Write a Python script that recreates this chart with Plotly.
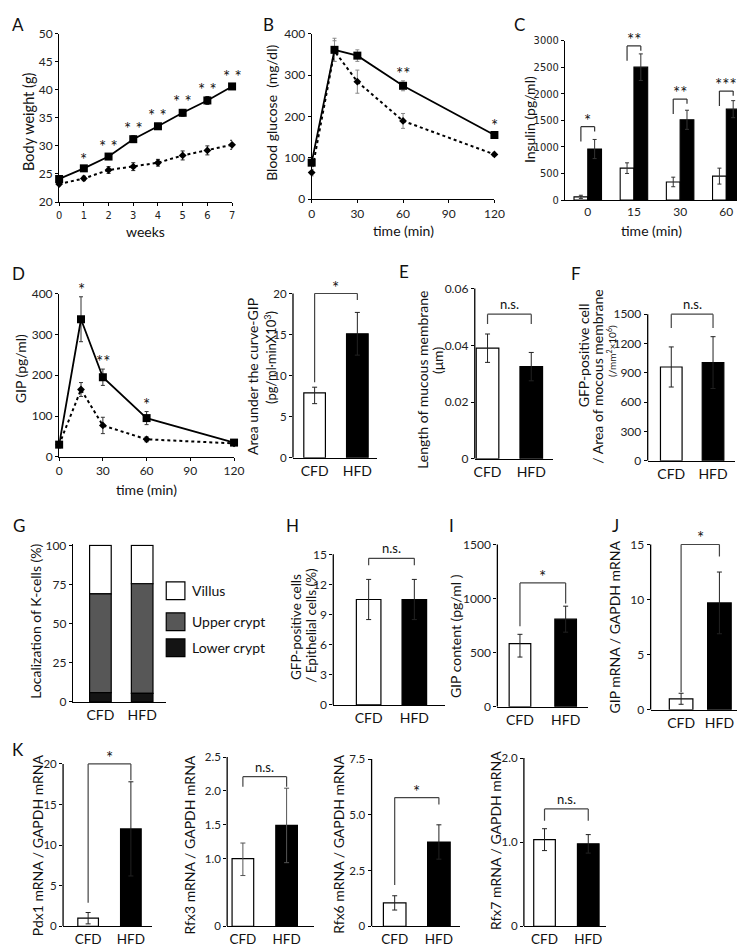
import numpy as np
import plotly.graph_objects as go

W, H = 745, 945
FONT = "Lato, 'Open Sans', 'DejaVu Sans', sans-serif"
NARROW = "'Liberation Sans Narrow', 'DejaVu Sans Condensed', sans-serif"

# ---------------- data ----------------
# A: body weight
weeks = [0, 1, 2, 3, 4, 5, 6, 7]
bw_hfd = [24.1, 26.0, 28.1, 31.2, 33.5, 35.9, 38.1, 40.6]
bw_hfd_err = [0.3, 0.3, 0.4, 0.6, 0.5, 0.6, 0.7, 0.4]
bw_cfd = [23.2, 24.2, 25.7, 26.3, 27.0, 28.3, 29.2, 30.2]
bw_cfd_err = [0.3, 0.4, 0.6, 0.7, 0.6, 0.8, 0.8, 0.8]
bw_sig = ["", "*", "* *", "* *", "* *", "* *", "* *", "* *"]
# B: blood glucose
glc_time = [0, 15, 30, 60, 120]
glc_hfd = [88, 361, 347, 274, 155]
glc_hfd_err = [10, 28, 14, 12, 6]
glc_cfd = [64, 358, 284, 189, 108]
glc_cfd_err = [8, 25, 28, 18, 5]
glc_sig = ["", "", "", "**", "*"]
# C: insulin
ins_time = ["0", "15", "30", "60"]
ins_cfd = [60, 600, 340, 450]
ins_cfd_err = [30, 100, 90, 150]
ins_hfd = [960, 2500, 1510, 1710]
ins_hfd_err = [180, 250, 180, 160]
ins_sig = ["*", "**", "**", "***"]
ins_bracket = [1380, 2900, 1900, 2050]
# D: GIP
gip_time = [0, 15, 30, 60, 120]
gip_hfd = [30, 337, 195, 95, 35]
gip_hfd_err = [8, 55, 20, 16, 5]
gip_cfd = [30, 165, 77, 43, 33]
gip_cfd_err = [6, 17, 20, 6, 4]
gip_sig = ["", "*", "**", "*", ""]

groups = ["CFD", "HFD"]
auc_mean = [7.9, 15.1]; auc_up = [0.7, 2.6]; auc_dn = [1.3, 2.6]
auc_ticks = [0, 5, 10, 15, 20]; auc_br = [20, 9.2, 19.2]; auc_sig = "*"
len_mean = [0.039, 0.0325]; len_up = [0.005, 0.005]; len_dn = [0.005, 0.005]
len_ticks = [0, 0.02, 0.04, 0.06]; len_br = [0.051, 0.0475, 0.0475]; len_sig = "n.s."
gfp_mean = [960, 1005]; gfp_up = [205, 265]; gfp_dn = [205, 265]
gfp_ticks = [0, 300, 600, 900, 1200, 1500]; gfp_br = [1500, 1360, 1360]; gfp_sig = "n.s."
epi_mean = [10.5, 10.5]; epi_up = [2.0, 2.0]; epi_dn = [2.0, 2.0]
epi_ticks = [0, 3, 6, 9, 12, 15]; epi_br = [14.6, 13.9, 13.9]; epi_sig = "n.s."
cont_mean = [585, 810]; cont_up = [85, 120]; cont_dn = [125, 120]
cont_ticks = [0, 500, 1000, 1500]; cont_br = [1145, 745, 955]; cont_sig = "*"
gipm_mean = [1.0, 9.7]; gipm_up = [0.5, 2.8]; gipm_dn = [0.5, 2.8]
gipm_ticks = [0, 5, 10, 15]; gipm_br = [15, 1.6, 13.9]; gipm_sig = "*"
pdx_mean = [1.0, 12.0]; pdx_up = [0.7, 5.8]; pdx_dn = [0.7, 5.8]
pdx_ticks = [0, 5, 10, 15, 20]; pdx_br = [20, 2.9, 18]; pdx_sig = "*"
rfx3_mean = [1.0, 1.49]; rfx3_up = [0.23, 0.55]; rfx3_dn = [0.25, 0.55]
rfx3_ticks = [0, 1.0, 1.5, 2.0, 2.5]; rfx3_ticktext = ["0", "1.0", "1.5", "2.0", "2.5"]
rfx3_br = [2.21, 2.06, 2.06]; rfx3_sig = "n.s."
rfx6_mean = [1.05, 3.78]; rfx6_up = [0.32, 0.77]; rfx6_dn = [0.32, 0.77]
rfx6_ticks = [0, 2.5, 5.0, 7.5]; rfx6_ticktext = ["0", "2.5", "5.0", "7.5"]
rfx6_br = [5.77, 1.85, 5.46]; rfx6_sig = "*"
rfx7_mean = [1.03, 0.98]; rfx7_up = [0.13, 0.11]; rfx7_dn = [0.13, 0.11]
rfx7_ticks = [0, 1.0, 2.0]; rfx7_ticktext = ["0", "1.0", "2.0"]
rfx7_br = [1.395, 1.256, 1.256]; rfx7_sig = "n.s."
# G: localization
loc_lower = [6.0, 5.5]
loc_upper = [63.0, 70.0]
loc_villus = [31.0, 24.5]
loc_ticks = [0, 25, 50, 75, 100]
loc_names = ["Villus", "Upper crypt", "Lower crypt"]
loc_colors = ["white", "#575757", "#141414"]

# ---------------- helpers ----------------
fig = go.Figure()
layout = {}
ann = []
shp = []


def sid(n):
    return "" if n == 1 else str(n)


def xd(a, b):
    return [a / W, b / W]


def yd(t, b):
    return [1 - b / H, 1 - t / H]


def base_axis(**kw):
    d = dict(showline=True, linecolor="black", linewidth=1.3, ticks="outside",
             ticklen=3, tickwidth=1, tickcolor="black", showgrid=False,
             zeroline=False, fixedrange=True,
             tickfont=dict(family=FONT, size=12, color="#222"))
    d.update(kw)
    return d


def text(t, px, py, size=14, angle=0, xanchor="center", yanchor="middle", family=FONT):
    ann.append(dict(text=t, x=px / W, y=1 - py / H, xref="paper", yref="paper",
                    showarrow=False, textangle=angle, xanchor=xanchor, yanchor=yanchor,
                    font=dict(family=family, size=size, color="#111")))


def line_panel(n, xpx, ypx, xrange, yrange, xticks, yticks, t, hfd, hfd_e, cfd, cfd_e,
               sig, ecolor, xfont=None, yfont=None):
    xa, ya = "x" + sid(n), "y" + sid(n)
    xax = base_axis(domain=xd(*xpx), anchor=ya, range=xrange, tickvals=xticks)
    if xfont:
        xax["tickfont"] = xfont
    yax = base_axis(domain=yd(*ypx), anchor=xa, range=yrange, tickvals=yticks)
    if yfont:
        yax["tickfont"] = yfont
    layout["xaxis" + sid(n)] = xax
    layout["yaxis" + sid(n)] = yax
    fig.add_trace(go.Scatter(
        x=t, y=cfd, mode="lines+markers", cliponaxis=False, showlegend=False,
        line=dict(color="black", width=2.0, dash="dot"),
        marker=dict(symbol="diamond", size=6, color="black"),
        error_y=dict(type="data", array=cfd_e, thickness=1, width=2, color=ecolor),
        xaxis=xa, yaxis=ya))
    fig.add_trace(go.Scatter(
        x=t, y=hfd, mode="lines+markers", cliponaxis=False, showlegend=False,
        line=dict(color="black", width=1.8),
        marker=dict(symbol="square", size=8, color="black"),
        error_y=dict(type="data", array=hfd_e, thickness=1, width=2, color=ecolor),
        xaxis=xa, yaxis=ya))
    for xi, yi, ei, s in zip(t, hfd, hfd_e, sig):
        if s:
            ann.append(dict(text=s, x=xi, y=yi + ei, xref=xa, yref=ya, showarrow=False,
                            yanchor="bottom", yshift=-5,
                            font=dict(family=FONT, size=17, color="#111")))


def bracket(n, xl, xr, top, lend, rend, label, color="#444"):
    xa, ya = "x" + sid(n), "y" + sid(n)
    for (a0, b0, a1, b1) in [(xl, lend, xl, top), (xl, top, xr, top), (xr, top, xr, rend)]:
        shp.append(dict(type="line", xref=xa, yref=ya, x0=a0, y0=b0, x1=a1, y1=b1,
                        line=dict(color=color, width=1.2)))
    star = "*" in label
    ann.append(dict(text=label, x=(xl + xr) / 2, y=top, xref=xa, yref=ya, showarrow=False,
                    yanchor="bottom", yshift=-6 if star else 0,
                    font=dict(family=FONT, size=17 if star else 13, color="#111")))


def bar_panel(n, geo, ymax, ticks, mean, up, dn, br=None, sig=None, ticktext=None,
              ecolor="#222", tfont=12, cfont=14):
    x0, x1, c1, c2, bw, ytop, ybot = geo
    sp = c2 - c1
    r0 = -(c1 - x0) / sp
    r1 = 1 + (x1 - c2) / sp
    k = 1.18
    ytop_ext = ybot - (ybot - ytop) * k
    xa, ya = "x" + sid(n), "y" + sid(n)
    layout["xaxis" + sid(n)] = base_axis(
        domain=xd(x0, x1), anchor=ya, type="category", range=[r0, r1], ticks="",
        categoryorder="array", categoryarray=groups,
        tickfont=dict(family=FONT, size=cfont, color="#111"))
    layout["yaxis" + sid(n)] = base_axis(
        domain=yd(ytop_ext, ybot), anchor=xa, range=[0, ymax * k], tickvals=ticks,
        ticktext=ticktext if ticktext else [str(v) for v in ticks], showline=False,
        tickfont=dict(family=FONT, size=tfont, color="#222"))
    shp.append(dict(type="line", xref=xa + " domain", yref=ya, x0=0, x1=0, y0=0, y1=ymax,
                    line=dict(color="black", width=1.3)))
    colors = ["white", "black"]
    for i in range(2):
        fig.add_trace(go.Bar(
            x=[groups[i]], y=[mean[i]], width=bw / sp, showlegend=False,
            marker=dict(color=colors[i], line=dict(color="black", width=1.2)),
            error_y=dict(type="data", array=[up[i]], arrayminus=[dn[i]], symmetric=False,
                         thickness=1, width=2.5, color=ecolor),
            xaxis=xa, yaxis=ya))
    if br:
        bracket(n, 0, 1, br[0], br[1], br[2], sig)


# ---------------- A, B, C, D ----------------
line_panel(1, (49, 225), (18, 189), [0, 7], [20, 50], weeks, [20, 25, 30, 35, 40, 45, 50],
           weeks, bw_hfd, bw_hfd_err, bw_cfd, bw_cfd_err, bw_sig, "#222",
           xfont=dict(family=NARROW, size=11, color="#222"))
line_panel(2, (306, 492), (18, 186), [0, 120], [0, 400], [0, 30, 60, 90, 120],
           [0, 100, 200, 300, 400], glc_time, glc_hfd, glc_hfd_err, glc_cfd, glc_cfd_err,
           glc_sig, "#888")
line_panel(4, (49, 227), (282, 448), [0, 120], [0, 400], [0, 30, 60, 90, 120],
           [0, 100, 200, 300, 400], gip_time, gip_hfd, gip_hfd_err, gip_cfd, gip_cfd_err,
           gip_sig, "#333")

# C: insulin grouped bars
c_x0, c_x1, c_first, c_sp, c_bw = 564, 740, 587, 47, 14
layout["xaxis3"] = base_axis(domain=xd(c_x0, c_x1), anchor="y3", type="category",
                             range=[-(c_first - c_x0) / c_sp, 3 + (c_x1 - (c_first + 3 * c_sp)) / c_sp],
                             ticks="", categoryorder="array", categoryarray=ins_time,
                             tickfont=dict(family=FONT, size=12, color="#222"))
layout["yaxis3"] = base_axis(domain=yd(25, 187), anchor="x3", range=[0, 3000],
                             tickvals=[0, 500, 1000, 1500, 2000, 2500, 3000],
                             tickfont=dict(family=NARROW, size=11, color="#222"))
wd = c_bw / c_sp
fig.add_trace(go.Bar(x=ins_time, y=ins_cfd, width=wd, offset=-wd, showlegend=False,
                     marker=dict(color="white", line=dict(color="black", width=1.1)),
                     error_y=dict(type="data", array=ins_cfd_err, thickness=1, width=2, color="#333"),
                     xaxis="x3", yaxis="y3"))
fig.add_trace(go.Bar(x=ins_time, y=ins_hfd, width=wd, offset=0, showlegend=False,
                     marker=dict(color="black", line=dict(color="black", width=1.1)),
                     error_y=dict(type="data", array=ins_hfd_err, thickness=1, width=2, color="#333"),
                     xaxis="x3", yaxis="y3"))
for i, (top, s) in enumerate(zip(ins_bracket, ins_sig)):
    bracket(3, i - wd / 2, i + wd / 2, top, top - 280, top - 90, s, color="#333")

# ---------------- bar panels ----------------
bar_panel(5, (287, 372, 309, 352.5, 22, 282, 449), 20, auc_ticks, auc_mean, auc_up, auc_dn, auc_br, auc_sig,
          tfont=11.5)
bar_panel(6, (472, 552, 485, 529.5, 23, 277, 450), 0.06, len_ticks, len_mean, len_up, len_dn, len_br, len_sig,
          ticktext=["0", "0.02", "0.04", "0.06"])
bar_panel(7, (648, 737, 672, 714.5, 22, 303, 452), 1500, gfp_ticks, gfp_mean, gfp_up, gfp_dn, gfp_br, gfp_sig)
bar_panel(9, (328, 442, 364, 410.5, 25, 547, 700), 15, epi_ticks, epi_mean, epi_up, epi_dn, epi_br, epi_sig)
bar_panel(10, (495, 587, 518, 564.5, 22, 537, 702), 1500, cont_ticks, cont_mean, cont_up, cont_dn, cont_br, cont_sig)
bar_panel(11, (651, 744, 682, 721, 24, 537, 705), 15, gipm_ticks, gipm_mean, gipm_up, gipm_dn, gipm_br, gipm_sig)
bar_panel(12, (53, 143, 78.5, 122, 21, 760, 925), 20, pdx_ticks, pdx_mean, pdx_up, pdx_dn, pdx_br, pdx_sig,
          tfont=11.5, cfont=13.5)
bar_panel(13, (220, 308, 236, 280.5, 22, 753, 925), 2.5, rfx3_ticks, rfx3_mean, rfx3_up, rfx3_dn, rfx3_br, rfx3_sig,
          ticktext=rfx3_ticktext, ecolor="#555", tfont=11.5, cfont=13.5)
bar_panel(14, (367, 457, 390.5, 435.5, 23, 755, 925), 7.5, rfx6_ticks, rfx6_mean, rfx6_up, rfx6_dn, rfx6_br, rfx6_sig,
          ticktext=rfx6_ticktext, tfont=11.5, cfont=13.5)
bar_panel(15, (522, 606, 543, 587.5, 22, 754, 925), 2.0, rfx7_ticks, rfx7_mean, rfx7_up, rfx7_dn, rfx7_br, rfx7_sig,
          ticktext=rfx7_ticktext, tfont=11.5, cfont=13.5)

# G: stacked localization bars
g_x0, g_x1, g_c1, g_c2, g_bw = 63, 158, 91, 133.5, 22
g_sp = g_c2 - g_c1
layout["xaxis8"] = base_axis(domain=xd(g_x0, g_x1), anchor="y8", type="category",
                             range=[-(g_c1 - g_x0) / g_sp, 1 + (g_x1 - g_c2) / g_sp], ticks="",
                             categoryorder="array", categoryarray=groups,
                             tickfont=dict(family=FONT, size=14, color="#111"))
layout["yaxis8"] = base_axis(domain=yd(537, 697), anchor="x8", range=[0, 100.6], tickvals=loc_ticks)
low = np.array(loc_lower)
upp = np.array(loc_upper)
vil = np.array(loc_villus)
stack = [(vil, low + upp, loc_colors[0]), (upp, low, loc_colors[1]), (low, np.zeros(2), loc_colors[2])]
for vals, base, col in stack:
    fig.add_trace(go.Bar(x=groups, y=vals, base=base, width=g_bw / g_sp, showlegend=False,
                         marker=dict(color=col, line=dict(color="black", width=1.2)),
                         xaxis="x8", yaxis="y8"))
leg_y = [584, 615.5, 642]
for name, col, yy in zip(loc_names, loc_colors, leg_y):
    shp.append(dict(type="rect", xref="paper", yref="paper", x0=158 / W, x1=177 / W,
                    y0=1 - (yy + 9) / H, y1=1 - (yy - 9) / H,
                    fillcolor=col, line=dict(color="black", width=1.2)))
    text(name, 182, yy, size=14, xanchor="left")

# ---------------- titles and labels ----------------
text("Body weight (g)", 18, 108, angle=-90, size=14.5)
text("weeks", 137, 219)
text("Blood glucose  (mg/dl)", 265, 98, angle=-90)
text("time (min)", 399, 218)
text("Insulin (pg/ml)", 528, 105, angle=-90)
text("time (min)", 652, 218)
text("GIP (pg/ml)", 9, 358, angle=-90)
text("time (min)", 138, 481)
text("Area under the curve-GIP", 245, 366, angle=-90)
text("(pg/ml·minX10<sup>3</sup>)", 264, 347, angle=-90, size=13)
text("Length of mucous membrane", 418, 370, angle=-90)
text("(μm)", 434, 349, angle=-90)
text("GFP-positive cell", 583, 345, angle=-90)
text("/ Area of mocous membrane", 597, 367, angle=-90)
text("(/mm<sup>2</sup>×10<sup>6</sup>)", 611, 340, size=10, angle=-90)
text("Localization of K-cells (%)", 25, 615, angle=-90)
text("GFP-positive cells", 290, 621, angle=-90, size=13.5)
text("/ Epithelial cells (%)", 305, 620, angle=-90, size=13.5)
text("GIP content (pg/ml )", 452, 630, angle=-90)
text("GIP mRNA / GAPDH mRNA", 614, 621, angle=-90)
text("Pdx1 mRNA / GAPDH mRNA", 27, 843, angle=-90)
text("Rfx3 mRNA / GAPDH mRNA", 182, 842, angle=-90)
text("Rfx6 mRNA / GAPDH mRNA", 333, 842, angle=-90)
text("Rfx7 mRNA / GAPDH mRNA", 493, 838, angle=-90)

for lab, px, py in [("A", 7, 9), ("B", 262, 9), ("C", 518, 9), ("D", 8, 262), ("E", 400, 260),
                    ("F", 575, 262), ("G", 8, 518), ("H", 287, 518), ("I", 448, 518),
                    ("J", 615, 518), ("K", 7, 745)]:
    text(lab, px, py, size=17)

layout.update(width=W, height=H, margin=dict(l=0, r=0, t=0, b=0), autosize=False,
              paper_bgcolor="white", plot_bgcolor="white", showlegend=False,
              barmode="overlay", annotations=ann, shapes=shp,
              font=dict(family=FONT, color="#111"))
fig.update_layout(**layout)
fig.write_html("out.html", include_plotlyjs=True, config=dict(displayModeBar=False))
